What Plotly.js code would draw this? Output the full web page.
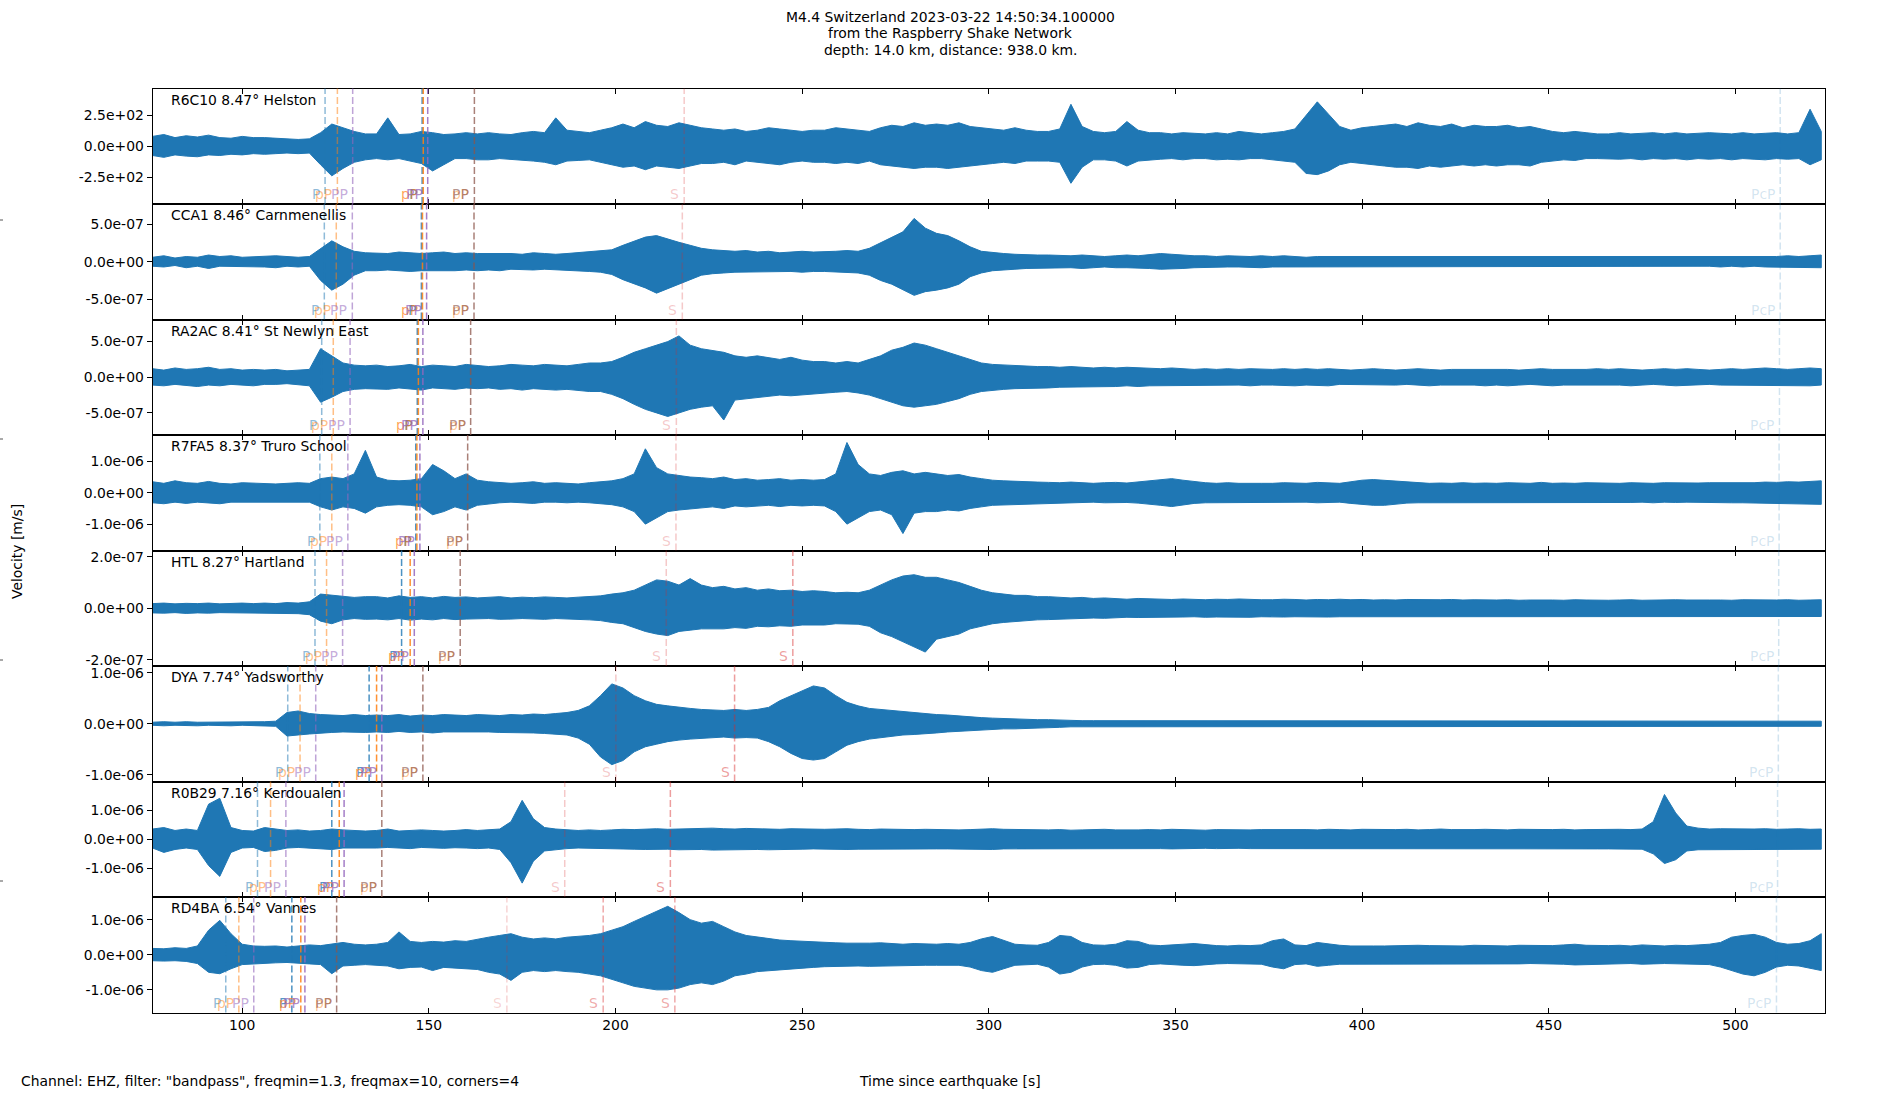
<!DOCTYPE html>
<html><head><meta charset="utf-8">
<script src="https://cdn.plot.ly/plotly-3.0.1.min.js"></script>
<style>html,body{margin:0;padding:0;background:#fff}#chart{width:1900px;height:1100px}</style>
</head><body><div id="chart"></div>
<script>
// ---------------- data ----------------
const titleLines = ["M4.4 Switzerland 2023-03-22 14:50:34.100000", "from the Raspberry Shake Network", "depth: 14.0 km, distance: 938.0 km."];
const stationNames = ["R6C10 8.47° Helston", "CCA1 8.46° Carnmenellis", "RA2AC 8.41° St Newlyn East", "R7FA5 8.37° Truro School", "HTL 8.27° Hartland", "DYA 7.74° Yadsworthy", "R0B29 7.16° Kerdoualen", "RD4BA 6.54° Vannes"];
const channelNote = 'Channel: EHZ, filter: "bandpass", freqmin=1.3, freqmax=10, corners=4';
const xLabel = "Time since earthquake [s]";
const yLabel = "Velocity [m/s]";

// envelope samples (start time and sample step in seconds)
const startTime = 76, sampleStep = 3;
// units: R6C10 in counts, others in 1e-8 m/s
const unitScale = [1, 1e-8, 1e-8, 1e-8, 1e-8, 1e-8, 1e-8, 1e-8];

const r6c10Up = [80,95,70,85,75,90,70,65,80,70, 70,65,60,55,60,110,180,150,120,100, 100,230,95,100,120,110,95,100,110,100, 110,100,95,110,120,110,230,130,120,110, 130,150,180,150,200,170,160,190,170,150, 140,130,140,120,130,150,140,130,120,130, 130,150,140,130,120,150,170,160,190,170, 180,170,190,160,150,140,130,150,130,120, 120,140,340,160,120,110,120,200,130,110, 110,100,110,105,100,110,100,120,110,100, 110,120,140,250,360,260,160,130,150,160, 170,180,160,190,170,160,180,150,170,160, 160,170,150,160,140,120,110,120,110,100, 100,110,100,105,110,100,110,100,105,110, 105,100,110,100,105,110,100,110,300,120];
const r6c10Dn = [-75,-90,-70,-80,-85,-70,-75,-65,-70,-60, -65,-60,-55,-60,-55,-150,-240,-180,-130,-110, -100,-110,-100,-120,-140,-200,-150,-100,-100,-110, -110,-100,-105,-115,-120,-130,-150,-120,-115,-110, -130,-150,-170,-160,-190,-160,-170,-180,-160,-140, -140,-130,-150,-120,-130,-140,-150,-130,-120,-130, -130,-140,-130,-140,-120,-150,-160,-170,-180,-170, -170,-180,-170,-160,-150,-140,-130,-140,-120,-120, -120,-130,-300,-170,-110,-110,-120,-160,-120,-110, -105,-100,-110,-100,-100,-110,-105,-110,-100,-100, -110,-120,-130,-220,-230,-200,-150,-130,-140,-150, -160,-170,-170,-180,-160,-170,-160,-150,-160,-150, -160,-150,-150,-160,-130,-120,-110,-115,-100,-100, -100,-105,-100,-110,-100,-105,-100,-110,-100,-105, -100,-110,-100,-105,-110,-100,-105,-100,-150,-110];

const cca1Up = [6,8,5,7,6,9,7,8,6,7, 7,8,7,6,7,18,28,20,14,12, 12,11,13,12,11,12,13,11,12,11, 11,12,11,10,12,11,10,11,12,13, 14,16,22,28,33,35,30,26,22,18, 16,15,14,15,13,14,12,13,14,13, 13,14,15,14,18,25,32,40,58,45, 38,35,28,20,14,12,11,10,9,9, 9,8,8,9,8,7,8,9,8,10, 11,10,9,8,8,7,8,7,7,8, 7,8,7,6,7,7,6,7,7,6, 6,7,6,7,6,6,7,6,7,6, 7,6,7,6,6,7,6,7,6,7, 6,7,6,7,7,6,7,6,7,6, 7,6,7,7,6,7,8,7,8,9];
const cca1Dn = [-6,-7,-5,-8,-6,-9,-6,-7,-6,-7, -7,-8,-6,-7,-6,-25,-38,-30,-18,-12, -12,-11,-12,-13,-12,-11,-12,-12,-11,-12, -11,-12,-10,-11,-11,-10,-11,-12,-12,-13, -14,-17,-24,-30,-35,-42,-35,-30,-24,-18, -16,-15,-14,-14,-13,-14,-13,-13,-14,-13, -13,-14,-14,-15,-18,-25,-30,-38,-45,-40, -38,-35,-30,-20,-15,-12,-11,-10,-9,-9, -9,-8,-8,-9,-8,-7,-8,-8,-8,-9, -10,-10,-9,-8,-8,-7,-7,-7,-7,-8, -7,-7,-7,-6,-7,-7,-6,-6,-7,-6, -6,-6,-7,-6,-6,-7,-6,-6,-6,-7, -6,-7,-6,-6,-7,-6,-6,-7,-6,-6, -6,-6,-7,-6,-6,-7,-6,-7,-6,-6, -7,-6,-7,-6,-7,-7,-7,-8,-8,-8];

const ra2acUp = [12,10,13,11,12,14,11,12,10,11, 10,11,9,10,11,40,30,20,17,16, 17,15,16,18,15,17,16,15,18,16, 15,16,18,17,16,18,17,16,18,20, 20,22,28,35,40,45,50,58,45,40, 38,35,30,28,30,27,25,28,24,22, 22,20,22,20,25,30,38,42,48,45, 40,35,30,25,20,18,17,16,15,15, 15,14,15,14,13,14,13,14,13,12, 12,13,12,11,12,11,12,11,12,11, 11,12,11,12,11,12,11,10,11,12, 11,10,11,12,11,10,11,11,12,11, 12,11,10,11,12,11,11,10,11,12, 11,12,11,10,11,12,11,12,11,10, 11,12,11,12,13,12,11,12,13,12];
const ra2acDn = [-11,-12,-10,-12,-13,-11,-12,-10,-11,-12, -10,-10,-9,-11,-12,-35,-28,-20,-17,-16, -16,-17,-15,-16,-18,-15,-16,-17,-15,-16, -15,-17,-16,-18,-16,-17,-18,-17,-19,-20, -20,-24,-30,-38,-45,-50,-55,-50,-45,-42, -40,-60,-32,-30,-28,-27,-25,-26,-24,-23, -22,-21,-20,-22,-25,-30,-35,-40,-42,-40, -38,-34,-30,-24,-20,-18,-17,-16,-15,-15, -15,-14,-14,-13,-14,-13,-13,-12,-13,-12, -12,-12,-11,-12,-11,-12,-11,-11,-12,-11, -11,-11,-12,-11,-11,-12,-10,-11,-11,-11, -11,-11,-10,-11,-12,-11,-10,-11,-11,-12, -11,-12,-11,-10,-11,-12,-11,-11,-10,-11, -11,-11,-12,-11,-10,-11,-12,-11,-11,-10, -11,-12,-11,-12,-12,-11,-12,-12,-12,-11];

const r7fa5Up = [35,30,38,32,30,36,30,28,32,30, 30,28,30,32,30,45,50,45,60,135, 50,40,38,40,45,90,70,45,60,40, 35,33,30,32,35,30,32,30,28,32, 34,38,45,60,140,80,60,55,50,48, 45,50,42,45,40,42,45,40,42,40, 42,60,160,90,60,55,65,70,60,65, 60,55,58,50,45,40,38,36,35,34, 33,32,34,32,30,32,33,31,34,38, 42,45,40,35,32,30,32,30,31,30, 30,32,31,30,33,31,30,35,40,42, 40,36,34,32,30,31,30,32,30,31, 30,32,31,30,33,30,31,30,32,31, 31,30,32,31,30,32,31,30,31,32, 32,31,33,32,34,33,35,34,36,38];
const r7fa5Dn = [-32,-35,-30,-34,-30,-32,-35,-30,-28,-30, -30,-28,-30,-30,-30,-45,-55,-45,-50,-65, -45,-40,-38,-40,-45,-70,-60,-45,-55,-40, -35,-32,-30,-32,-34,-30,-30,-32,-30,-32, -34,-38,-45,-60,-100,-80,-60,-55,-50,-48, -45,-50,-42,-45,-42,-40,-44,-40,-42,-40, -42,-60,-100,-80,-60,-55,-70,-130,-65,-60, -60,-55,-58,-50,-45,-40,-38,-36,-35,-34, -33,-32,-33,-31,-30,-32,-32,-31,-33,-36, -40,-44,-40,-34,-32,-30,-31,-30,-30,-30, -30,-31,-30,-30,-32,-31,-30,-34,-38,-40, -40,-36,-33,-32,-30,-31,-30,-31,-30,-30, -30,-31,-30,-31,-32,-30,-30,-31,-31,-30, -30,-31,-31,-30,-32,-30,-31,-30,-31,-31, -31,-32,-32,-33,-33,-34,-34,-35,-36,-37];

const htlUp = [1.8,2.0,1.7,1.9,1.8,2.0,1.7,1.8,2.0,1.8, 2.0,1.8,2.2,2.0,2.5,5.5,5.0,4.5,4.2,4.5, 4.5,4.0,4.8,4.2,4.5,4.0,4.6,4.2,4.4,4.0, 4.2,4.5,4.0,4.3,4.1,4.4,4.2,4.0,4.3,4.5, 4.8,5.5,6.0,7.0,9.0,11.0,10.5,9.0,11.5,9.0, 8.0,8.5,7.5,8.0,7.0,7.5,6.8,7.0,6.5,6.8, 6.5,6.0,6.2,6.0,7.0,9.0,11.0,12.5,13.0,12.0, 12.0,11.0,10.0,8.5,7.0,6.0,5.5,5.0,5.0,4.5, 4.5,4.2,4.0,4.2,3.8,4.0,3.8,3.5,3.8,3.6, 3.5,3.4,3.6,3.5,3.3,3.5,3.4,3.6,3.4,3.3, 3.3,3.5,3.4,3.2,3.4,3.3,3.5,3.3,3.4,3.2, 3.3,3.2,3.4,3.3,3.2,3.3,3.4,3.2,3.3,3.2, 3.2,3.3,3.1,3.2,3.3,3.2,3.1,3.3,3.2,3.1, 3.1,3.2,3.3,3.1,3.2,3.1,3.3,3.2,3.1,3.2, 3.2,3.1,3.3,3.2,3.1,3.2,3.3,3.1,3.2,3.3];
const htlDn = [-1.8,-1.9,-1.7,-2.0,-1.8,-1.9,-1.7,-1.8,-1.9,-1.8, -2.0,-1.9,-2.0,-2.1,-2.5,-5.0,-6.0,-4.5,-4.0,-4.3, -4.2,-4.5,-4.0,-4.6,-4.2,-4.5,-4.0,-4.4,-4.2,-4.0, -4.0,-4.3,-4.2,-4.0,-4.1,-4.3,-4.0,-4.2,-4.3,-4.5, -4.8,-5.5,-6.0,-7.5,-9.0,-10.0,-10.6,-9.0,-8.5,-8.0, -8.0,-8.0,-7.5,-7.8,-7.0,-7.2,-6.8,-7.0,-6.5,-6.5, -6.5,-6.0,-6.0,-6.2,-7.0,-9.5,-11.0,-13.0,-15.0,-17.0, -12.0,-11.0,-10.0,-8.0,-7.0,-6.0,-5.5,-5.0,-4.8,-4.5, -4.4,-4.2,-4.0,-4.0,-3.8,-3.9,-3.7,-3.5,-3.6,-3.5, -3.4,-3.5,-3.4,-3.3,-3.5,-3.4,-3.3,-3.4,-3.5,-3.3, -3.3,-3.4,-3.3,-3.2,-3.3,-3.4,-3.3,-3.2,-3.3,-3.3, -3.2,-3.3,-3.2,-3.3,-3.2,-3.3,-3.2,-3.3,-3.2,-3.3, -3.2,-3.1,-3.2,-3.2,-3.1,-3.2,-3.3,-3.1,-3.2,-3.1, -3.1,-3.2,-3.1,-3.2,-3.1,-3.2,-3.1,-3.2,-3.1,-3.2, -3.2,-3.1,-3.2,-3.3,-3.1,-3.2,-3.2,-3.1,-3.2,-3.2];

const dyaUp = [3,4,3,4,3,3,4,3,4,3, 4,5,22,25,20,18,17,16,18,16, 17,16,18,15,17,16,18,17,16,18, 17,16,18,17,19,18,20,22,26,35, 55,78,70,55,45,38,35,32,30,28, 27,26,28,26,28,32,45,55,65,74, 70,55,42,35,30,28,25,23,22,20, 18,17,15,14,12,11,10,10,9,8, 8,7,7,6,6,6,5,6,5,5, 5,5,6,5,5,6,5,5,5,6, 5,6,5,5,5,6,5,5,6,5, 5,5,5,6,5,5,6,5,5,5, 6,5,5,5,6,5,5,6,5,5, 5,5,6,5,5,5,6,5,5,6, 5,6,5,5,6,5,5,6,5,5];
const dyaDn = [-3,-4,-3,-3,-4,-3,-3,-4,-3,-3, -4,-5,-24,-22,-20,-18,-17,-16,-16,-17, -16,-17,-15,-17,-16,-18,-16,-17,-17,-16, -16,-17,-17,-18,-18,-19,-20,-22,-28,-40, -65,-80,-72,-55,-45,-40,-35,-32,-30,-28, -27,-26,-28,-27,-28,-35,-45,-58,-68,-71, -68,-55,-42,-35,-30,-27,-25,-22,-21,-20, -18,-16,-15,-13,-12,-11,-10,-10,-9,-8, -8,-7,-6,-6,-6,-5,-6,-5,-5,-5, -5,-5,-5,-6,-5,-5,-5,-6,-5,-5, -5,-5,-6,-5,-5,-5,-6,-5,-5,-5, -5,-6,-5,-5,-5,-6,-5,-5,-6,-5, -5,-5,-6,-5,-5,-5,-6,-5,-5,-6, -5,-6,-5,-5,-6,-5,-5,-5,-6,-5, -5,-5,-5,-6,-5,-5,-6,-5,-5,-5];

const r0b29Up = [35,40,30,35,30,120,140,40,30,28, 40,35,30,32,28,30,35,32,30,28, 30,35,28,30,32,30,28,30,33,30, 32,35,60,133,70,40,35,32,30,32, 30,32,34,33,35,36,34,35,37,36, 38,36,35,37,36,35,34,36,35,33, 34,35,36,34,33,35,34,32,33,34, 33,34,32,33,35,36,34,33,32,33, 32,33,31,32,33,34,32,31,32,33, 32,34,33,32,31,33,32,31,32,33, 33,34,35,33,32,34,33,32,34,33, 32,33,34,32,33,35,33,32,33,34, 33,32,34,33,32,33,34,32,33,34, 33,34,33,35,60,153,90,45,38,35, 36,35,34,35,36,34,35,36,34,35];
const r0b29Dn = [-30,-45,-35,-30,-35,-90,-127,-45,-30,-28, -42,-38,-30,-28,-30,-32,-35,-30,-28,-30, -30,-28,-30,-32,-28,-30,-31,-29,-30,-32, -30,-35,-80,-150,-75,-40,-35,-32,-30,-31, -30,-32,-33,-34,-35,-35,-34,-36,-36,-35, -37,-36,-35,-36,-35,-36,-34,-35,-34,-33, -33,-34,-35,-34,-33,-34,-33,-32,-33,-33, -33,-33,-32,-33,-34,-35,-33,-32,-32,-33, -32,-32,-31,-32,-33,-33,-32,-31,-32,-32, -32,-33,-32,-32,-31,-32,-32,-31,-32,-32, -33,-33,-34,-33,-32,-33,-33,-32,-33,-33, -32,-33,-33,-32,-33,-34,-32,-32,-33,-33, -33,-32,-33,-33,-32,-33,-33,-32,-33,-33, -33,-33,-33,-34,-50,-83,-70,-40,-36,-35, -35,-34,-34,-35,-35,-34,-35,-35,-34,-34];

const rd4baUp = [18,17,20,18,25,70,98,60,30,25, 24,25,22,25,28,26,30,35,30,28, 30,35,65,38,35,38,36,40,38,45, 50,55,60,50,45,48,45,50,52,55, 60,70,80,95,110,125,138,120,100,90, 95,80,65,55,50,45,42,40,38,36, 35,34,33,32,33,34,32,30,32,31, 30,32,30,35,45,52,40,30,28,27, 35,55,52,35,28,27,30,40,38,28, 26,27,30,32,28,26,25,27,26,28, 40,45,28,26,35,30,27,25,26,25, 25,26,25,27,26,25,26,25,27,26, 26,25,27,26,25,26,28,30,27,26, 26,27,25,28,26,25,27,26,28,30, 35,50,55,58,50,35,30,32,40,60];
const rd4baDn = [-17,-18,-17,-19,-25,-50,-54,-40,-28,-25, -24,-23,-22,-24,-26,-28,-54,-32,-30,-28, -30,-32,-40,-36,-35,-45,-36,-38,-40,-42, -50,-55,-73,-50,-45,-48,-45,-48,-50,-55, -60,-70,-80,-90,-95,-100,-100,-95,-85,-80, -85,-75,-60,-55,-48,-45,-42,-40,-38,-36, -34,-33,-32,-32,-33,-33,-31,-30,-31,-30, -30,-31,-30,-35,-45,-50,-40,-30,-28,-27, -35,-55,-50,-35,-28,-27,-30,-38,-36,-28, -26,-27,-30,-31,-28,-26,-25,-26,-26,-27, -35,-40,-28,-26,-33,-30,-27,-25,-26,-25, -25,-25,-26,-26,-25,-25,-26,-25,-26,-25, -25,-26,-26,-25,-25,-26,-27,-29,-27,-26, -26,-26,-25,-27,-26,-25,-26,-26,-27,-28, -35,-45,-55,-60,-50,-35,-30,-32,-38,-45];

const upperEnvelopes = [r6c10Up, cca1Up, ra2acUp, r7fa5Up, htlUp, dyaUp, r0b29Up, rd4baUp];
const lowerEnvelopes = [r6c10Dn, cca1Dn, ra2acDn, r7fa5Dn, htlDn, dyaDn, r0b29Dn, rd4baDn];

// axis limits and ticks
const yLimits = [468, 7.73e-7, 8.1e-7, 1.84e-6, 2.24e-7, 1.13e-6, 1.975e-6, 1.645e-6];
const yTickVals = [[-250,0,250],[-5e-7,0,5e-7],[-5e-7,0,5e-7],[-1e-6,0,1e-6],[-2e-7,0,2e-7],[-1e-6,0,1e-6],[-1e-6,0,1e-6],[-1e-6,0,1e-6]];
const yTickText = [["-2.5e+02","0.0e+00","2.5e+02"],["-5.0e-07","0.0e+00","5.0e-07"],["-5.0e-07","0.0e+00","5.0e-07"],["-1.0e-06","0.0e+00","1.0e-06"],["-2.0e-07","0.0e+00","2.0e-07"],["-1.0e-06","0.0e+00","1.0e-06"],["-1.0e-06","0.0e+00","1.0e-06"],["-1.0e-06","0.0e+00","1.0e-06"]];
const xRange = [76, 524];
const xTickVals = [100,150,200,250,300,350,400,450,500];

// phase arrival times (s) per station
const firstP   = [122.2,122.0,121.3,120.8,119.5,112.2,104.1,95.6];
const firstpP  = [125.5,125.2,124.4,124.0,122.6,115.5,107.6,99.1];
const firstPP  = [129.6,129.5,128.9,128.3,126.9,119.7,111.7,103.1];
const secondP  = [148.2,148.0,146.9,146.5,142.7,134.0,124.0,113.3];
const secondpP = [148.5,148.3,147.2,146.8,145.0,136.0,126.0,115.7];
const secondPP = [149.7,149.4,148.4,147.6,146.1,137.4,127.3,116.8];
const thirdPP  = [162.2,162.1,161.2,160.4,158.4,148.4,137.4,125.3];
const sArrivals = [[218.4],[217.9],[216.3],[216.2],[213.6,247.5],[200.1,231.9],[186.4,214.7],[170.9,196.7,215.9]];
const sAlpha = [[0.25],[0.25],[0.25],[0.25],[0.25,0.45],[0.25,0.45],[0.25,0.45],[0.2,0.4,0.4]];
const pcpArrival = [512.0,512.0,511.8,511.7,511.6,511.5,511.3,511.0];

// ---------------- drawing ----------------
const FONT = "DejaVu Sans, Liberation Sans, sans-serif";
const FS = 13.9;
const W = 1900, H = 1100;
const panelTop = 88.5, panelH = 115.5;
const xDom = [152.6 / W, 1825 / W];
const traceBlue = "#1f77b4";

const times = upperEnvelopes[0].map((_, i) => startTime + i * sampleStep);

const data = [];
const shapes = [];
const annotations = [];
const layout = {
  width: W, height: H,
  margin: {l: 0, r: 0, t: 0, b: 0},
  paper_bgcolor: "#fff", plot_bgcolor: "#fff",
  showlegend: false,
  font: {family: FONT, size: FS, color: "#000"}
};

function px2paperY(y) { return 1 - y / H; }

for (let i = 0; i < 8; i++) {
  const ax = i === 0 ? "" : String(i + 1);
  const top = panelTop + i * panelH, bot = top + panelH;
  layout["xaxis" + ax] = {
    domain: xDom, range: xRange, anchor: "y" + ax,
    tickmode: "array", tickvals: xTickVals,
    ticks: "inside", ticklen: 5, tickwidth: 1, tickcolor: "#000",
    showline: true, linecolor: "#000", linewidth: 1, mirror: "ticks",
    showgrid: false, zeroline: false, showticklabels: i === 7,
    tickfont: {family: FONT, size: FS, color: "#000"}, fixedrange: true
  };
  layout["yaxis" + ax] = {
    domain: [px2paperY(bot), px2paperY(top)], range: [-yLimits[i], yLimits[i]], anchor: "x" + ax,
    tickmode: "array", tickvals: yTickVals[i], ticktext: yTickText[i],
    ticks: "outside", ticklen: 5, tickwidth: 1, tickcolor: "#000",
    showline: true, linecolor: "#000", linewidth: 1, mirror: true,
    showgrid: false, zeroline: false,
    tickfont: {family: FONT, size: FS, color: "#000"}, fixedrange: true
  };

  const s = unitScale[i];
  const up = upperEnvelopes[i].map(v => v * s);
  const dn = lowerEnvelopes[i].map(v => v * s);
  data.push({
    type: "scatter", mode: "lines",
    x: times.concat(times.slice().reverse()),
    y: up.concat(dn.slice().reverse()),
    fill: "toself", fillcolor: traceBlue,
    line: {color: traceBlue, width: 1},
    xaxis: "x" + ax, yaxis: "y" + ax, hoverinfo: "skip"
  });

  // station label
  annotations.push({
    xref: "paper", yref: "paper", x: 169 / W, y: px2paperY(top + 11),
    xanchor: "left", yanchor: "middle", showarrow: false,
    text: stationNames[i], font: {family: FONT, size: FS, color: "#000"}
  });

  const phases = [];
  phases.push({t: firstP[i], c: "rgba(31,119,180,0.5)", lc: "rgba(31,119,180,0.5)", label: "P"});
  phases.push({t: firstpP[i], c: "rgba(255,127,14,0.5)", lc: "rgba(255,127,14,0.5)", label: "pP"});
  phases.push({t: firstPP[i], c: "rgba(148,103,189,0.6)", lc: "rgba(148,103,189,0.55)", label: "PP"});
  phases.push({t: secondP[i], c: "rgba(31,119,180,0.8)", lc: "rgba(31,119,180,0.75)", label: "P"});
  phases.push({t: secondpP[i], c: "rgba(255,127,14,0.85)", lc: "rgba(255,127,14,0.7)", label: "pP"});
  phases.push({t: secondPP[i], c: "rgba(148,103,189,0.85)", lc: "rgba(148,103,189,0.75)", label: "PP"});
  phases.push({t: thirdPP[i], c: null, lc: "rgba(255,127,14,0.45)", label: "pP"});
  phases.push({t: thirdPP[i], c: "rgba(140,86,75,0.75)", lc: "rgba(140,86,75,0.65)", label: "PP"});
  sArrivals[i].forEach((t, k) => {
    const a = sAlpha[i][k];
    phases.push({t: t, c: `rgba(214,39,40,${a})`, lc: `rgba(214,39,40,${a})`, label: "S"});
  });
  phases.push({t: pcpArrival[i], c: "rgba(31,119,180,0.2)", lc: "rgba(31,119,180,0.2)", label: "PcP"});

  phases.forEach(p => {
    if (p.c) {
      shapes.push({
        type: "line", xref: "x" + ax, yref: "y" + ax + " domain",
        x0: p.t, x1: p.t, y0: 0, y1: 1,
        line: {color: p.c, width: 1.5, dash: "7px,3px"}, layer: "above"
      });
    }
    annotations.push({
      xref: "x" + ax, yref: "y" + ax + " domain", x: p.t, y: 0,
      xanchor: "right", yanchor: "middle", xshift: -3, yshift: 10,
      showarrow: false, text: p.label, font: {family: FONT, size: FS, color: p.lc}
    });
  });
}

// title
titleLines.forEach((t, k) => {
  annotations.push({
    xref: "paper", yref: "paper", x: 0.5, y: px2paperY([17, 33.5, 50][k]),
    xanchor: "center", yanchor: "middle", showarrow: false,
    text: t, font: {family: FONT, size: FS, color: "#000"}
  });
});
// y label
annotations.push({
  xref: "paper", yref: "paper", x: 17 / W, y: px2paperY(552),
  xanchor: "center", yanchor: "middle", showarrow: false, textangle: -90,
  text: yLabel, font: {family: FONT, size: FS, color: "#000"}
});
// bottom texts
annotations.push({
  xref: "paper", yref: "paper", x: 19 / W, y: px2paperY(1081),
  xanchor: "left", yanchor: "middle", showarrow: false,
  text: channelNote, font: {family: FONT, size: FS, color: "#000"}
});
annotations.push({
  xref: "paper", yref: "paper", x: 950 / W, y: px2paperY(1081),
  xanchor: "center", yanchor: "middle", showarrow: false,
  text: xLabel, font: {family: FONT, size: FS, color: "#000"}
});
// small stray ticks on the left edge
[220, 439, 660, 881].forEach(y => {
  shapes.push({type: "line", xref: "paper", yref: "paper", x0: 0, x1: 3 / W,
    y0: px2paperY(y), y1: px2paperY(y), line: {color: "#555", width: 1}});
});

layout.shapes = shapes;
layout.annotations = annotations;

Plotly.newPlot("chart", data, layout, {displayModeBar: false, staticPlot: true});
</script>
</body></html>
